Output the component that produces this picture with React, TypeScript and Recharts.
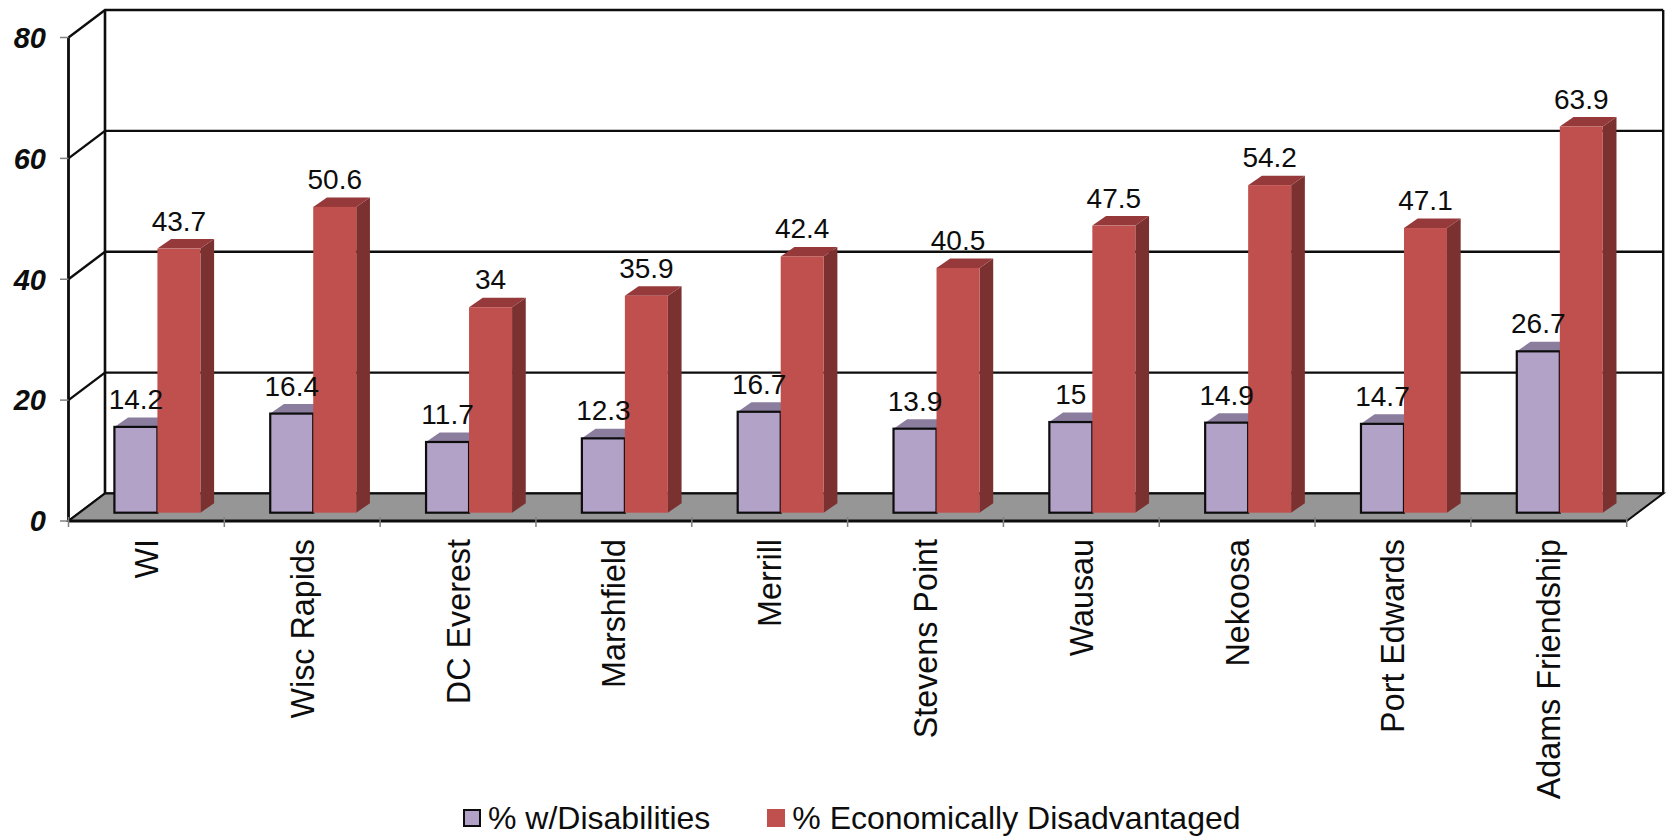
import { BarChart, Bar, XAxis, YAxis, CartesianGrid, ReferenceArea, LabelList, Legend } from 'recharts';

const districts = ['WI', 'Wisc Rapids', 'DC Everest', 'Marshfield', 'Merrill', 'Stevens Point', 'Wausau', 'Nekoosa', 'Port Edwards', 'Adams Friendship'];
const disabilities = [14.2, 16.4, 11.7, 12.3, 16.7, 13.9, 15, 14.9, 14.7, 26.7];
const disadvantaged = [43.7, 50.6, 34, 35.9, 42.4, 40.5, 47.5, 54.2, 47.1, 63.9];
const yTicks = [0, 20, 40, 60, 80];

const data = districts.map((name, i) => ({ name, disabilities: disabilities[i], disadvantaged: disadvantaged[i] }));

const FONT = '"Liberation Sans", Arial, sans-serif';
const INK = '#0d0d0d';

// fake 3D: how far the back wall sits from the front plane
const WALL_DX = 36.5;
const WALL_DY = 27.5;
// bars stand part way into the floor, with their own depth
const BAR_DX = 10.7;
const BAR_DY = 8.3;
const BAR_DEPTH_X = 13.7;
const BAR_DEPTH_Y = 9.5;

const Frame = ({ x, y, width, height }: any) => {
    const bottom = y + height;
    return (
        <g>
            <polygon
                points={`${x},${bottom} ${x + WALL_DX},${bottom - WALL_DY} ${x + width + WALL_DX},${bottom - WALL_DY} ${x + width},${bottom}`}
                fill="#969696"
                stroke={INK}
                strokeWidth={2}
            />
            <line x1={x} y1={y} x2={x} y2={bottom} stroke={INK} strokeWidth={2.4} />
            <line x1={x + WALL_DX} y1={y - WALL_DY} x2={x + WALL_DX} y2={bottom - WALL_DY} stroke={INK} strokeWidth={2.6} />
            <line x1={x + width + WALL_DX} y1={y - WALL_DY} x2={x + width + WALL_DX} y2={bottom - WALL_DY} stroke={INK} strokeWidth={2.4} />
        </g>
    );
};

const GridLine = ({ x1, x2, y1 }: any) => (
    <path
        d={`M${x1},${y1} L${x1 + WALL_DX},${y1 - WALL_DY} L${x2 + WALL_DX},${y1 - WALL_DY}`}
        fill="none"
        stroke={INK}
        strokeWidth={2.4}
    />
);

const makeBox = (front: string, top: string, side: string, outline?: string) => ({ x, y, width, height }: any) => {
    const left = x + BAR_DX;
    const right = left + width;
    const upper = y - BAR_DY;
    const lower = upper + height;
    const dx = BAR_DEPTH_X;
    const dy = BAR_DEPTH_Y;
    return (
        <g>
            <polygon points={`${right},${upper} ${right + dx},${upper - dy} ${right + dx},${lower - dy} ${right},${lower}`} fill={side} />
            <polygon points={`${left},${upper} ${left + dx},${upper - dy} ${right + dx},${upper - dy} ${right},${upper}`} fill={top} />
            <rect x={left} y={upper} width={width} height={height} fill={front} stroke={outline ?? 'none'} strokeWidth={outline ? 2.2 : 0} />
        </g>
    );
};

const PurpleBox = makeBox('#b2a2c7', '#8a7d9e', '#6f6480', INK);
const RedBox = makeBox('#c0504d', '#95393a', '#7b3130');

const BarValue = ({ x, y, width, value }: any) => (
    <text x={x + BAR_DX + width / 2} y={y - BAR_DY - 18} textAnchor="middle" fontFamily={FONT} fontSize={28} fill={INK}>
        {value}
    </text>
);

const CategoryTick = ({ x, y, payload, index }: any) => {
    const half = payload.offset ?? 0;
    const axisY = y - 12;
    return (
        <g>
            <line x1={x - half} y1={axisY} x2={x - half} y2={axisY + 10} stroke="#808080" strokeWidth={1.5} />
            {index === districts.length - 1 && (
                <line x1={x + half} y1={axisY} x2={x + half} y2={axisY + 10} stroke="#808080" strokeWidth={1.5} />
            )}
            <text
                transform={`translate(${x + 11.5},${axisY + 22}) rotate(-90)`}
                textAnchor="end"
                fontFamily={FONT}
                fontSize={32.3}
                fill={INK}
            >
                {payload.value}
            </text>
        </g>
    );
};

const ChartLegend = ({ payload }: any) => (
    <div style={{ display: 'flex', alignItems: 'center', height: 36, paddingLeft: 463, fontFamily: FONT, fontSize: 32, color: INK, lineHeight: '36px', whiteSpace: 'nowrap' }}>
        {(payload ?? []).map((entry: any, i: number) => (
            <div key={entry.value} style={{ display: 'flex', alignItems: 'center', marginRight: 57 }}>
                <span
                    style={{
                        display: 'inline-block',
                        boxSizing: 'border-box',
                        width: 18,
                        height: 18,
                        marginRight: 7,
                        background: entry.color,
                        border: i === 0 ? `2px solid ${INK}` : 'none',
                    }}
                />
                {entry.value}
            </div>
        ))}
    </div>
);

export default function App() {
    return (
        <div style={{ position: 'absolute', left: 0, top: 0, width: 1667, height: 836, background: '#fff', overflow: 'hidden' }}>
            <BarChart
                width={1667}
                height={836}
                data={data}
                margin={{ top: 37.5, right: 40.3, bottom: 0, left: 0 }}
                barCategoryGap="22.6%"
                barGap={0}
            >
                <CartesianGrid vertical={false} horizontal={<GridLine />} />
                <ReferenceArea y1={0} y2={80} shape={<Frame />} ifOverflow="visible" />
                <XAxis
                    dataKey="name"
                    interval={0}
                    height={279}
                    axisLine={{ stroke: INK, strokeWidth: 3 }}
                    tickLine={false}
                    tick={<CategoryTick />}
                />
                <YAxis
                    domain={[0, 80]}
                    ticks={yTicks}
                    width={68.5}
                    axisLine={{ stroke: INK, strokeWidth: 2.4 }}
                    tickSize={8.5}
                    tickLine={{ stroke: '#808080', strokeWidth: 1.5 }}
                    tickMargin={14}
                    tick={{ fontFamily: FONT, fontSize: 29, fontWeight: 700, fontStyle: 'italic', fill: INK }}
                />
                <Legend content={<ChartLegend />} verticalAlign="bottom" itemSorter={null} />
                <Bar dataKey="disabilities" name="% w/Disabilities" fill="#b2a2c7" shape={<PurpleBox />} isAnimationActive={false}>
                    <LabelList dataKey="disabilities" content={<BarValue />} />
                </Bar>
                <Bar dataKey="disadvantaged" name="% Economically Disadvantaged" fill="#c0504d" shape={<RedBox />} isAnimationActive={false}>
                    <LabelList dataKey="disadvantaged" content={<BarValue />} />
                </Bar>
            </BarChart>
        </div>
    );
}
